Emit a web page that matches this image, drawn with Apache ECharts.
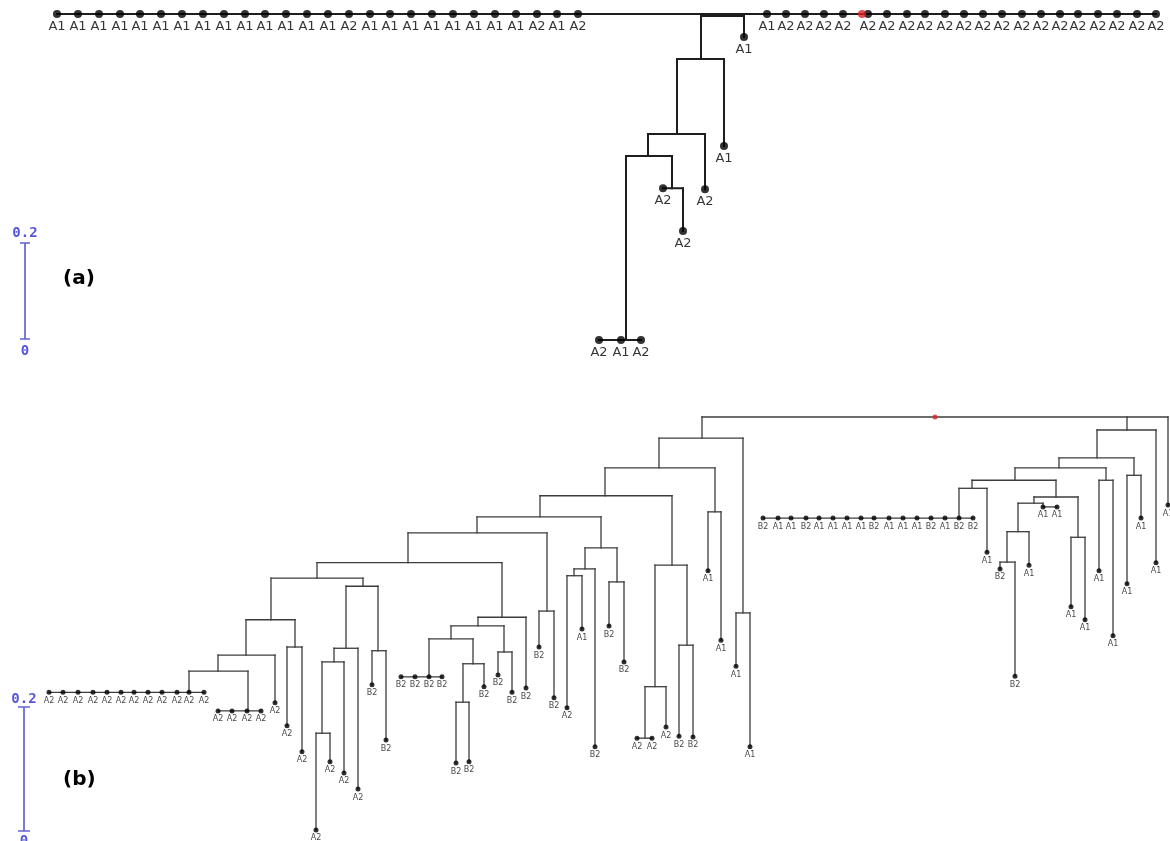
<!DOCTYPE html>
<html>
<head>
<meta charset="utf-8">
<script src="https://cdn.jsdelivr.net/npm/echarts@6/dist/echarts.min.js"></script>
<style>html,body{margin:0;padding:0;background:#fff}#c{width:1170px;height:841px}</style>
</head>
<body>
<div id="c"></div>
<script>
// ---------------- Panel (a) ----------------
// internal nodes: position along leaf axis, distance from root, parent index
const aInnerX = [862, 701, 701, 677, 648, 672, 626];
const aInnerDist = [0, 0.004, 0.094, 0.250, 0.296, 0.363, 0.679];
const aInnerParent = [-1, 0, 1, 2, 3, 4, 4];
// leaves
const aLeafX = [57,78,99,120,140,161,182,203,224,245,265,286,307,328,349,370,390,411,432,453,474,495,516,537,557,578,
  767,786,805,824,843,868,887,907,925,945,964,983,1002,1022,1041,1060,1078,1098,1117,1137,1156,
  744, 724, 705, 663,683, 599,621,641];
const aLeafDist = [0,0,0,0,0,0,0,0,0,0,0,0,0,0,0,0,0,0,0,0,0,0,0,0,0,0,
  0,0,0,0,0,0,0,0,0,0,0,0,0,0,0,0,0,0,0,0,0,
  0.048, 0.275, 0.365, 0.363,0.452, 0.679,0.679,0.679];
const aLeafParent = [0,0,0,0,0,0,0,0,0,0,0,0,0,0,0,0,0,0,0,0,0,0,0,0,0,0,
  0,0,0,0,0,0,0,0,0,0,0,0,0,0,0,0,0,0,0,0,0,
  1, 2, 3, 5,5, 6,6,6];
const aLeafLabel = ['A1','A1','A1','A1','A1','A1','A1','A1','A1','A1','A1','A1','A1','A1','A2','A1','A1','A1','A1','A1','A1','A1','A1','A2','A1','A2',
  'A1','A2','A2','A2','A2','A2','A2','A2','A2','A2','A2','A2','A2','A2','A2','A2','A2','A2','A2','A2','A2',
  'A1','A1','A2','A2','A2','A2','A1','A2'];

// ---------------- Panel (b) ----------------
const bInnerX = [935, 702, 1127, 743, 659, 715, 605, 672, 655, 645, 687, 540, 601, 617, 585, 574, 477, 547, 408, 502,
  478, 504, 451, 429, 473, 463, 317, 363, 378, 346, 334, 322, 271, 295, 246, 218, 189, 248,
  1097, 1134, 1059, 1106, 1015, 972, 959, 1056, 1078, 1034, 1043, 1018, 1007];
const bInnerDist = [0, 0.034, 0.021, 0.316, 0.082, 0.153, 0.127, 0.239, 0.435, 0.518, 0.368, 0.161, 0.211, 0.266, 0.245, 0.256, 0.187, 0.313, 0.235, 0.323,
  0.337, 0.379, 0.358, 0.419, 0.398, 0.460, 0.260, 0.273, 0.377, 0.373, 0.395, 0.510, 0.327, 0.371, 0.384, 0.410, 0.444, 0.474,
  0.066, 0.094, 0.082, 0.102, 0.102, 0.115, 0.163, 0.129, 0.194, 0.139, 0.145, 0.185, 0.234];
const bInnerParent = [-1, 0, 0, 1, 1, 4, 4, 6, 7, 8, 7, 6, 11, 12, 12, 14, 11, 16, 16, 18,
  19, 20, 20, 22, 22, 24, 18, 26, 27, 27, 29, 30, 26, 32, 32, 34, 35, 35,
  2, 38, 38, 40, 40, 42, 43, 42, 45, 45, 47, 47, 49];
const bLeafX = [1168, 736,750, 708,721, 666, 637,652, 679,693, 609,624, 595, 567,582, 539,554, 526, 498,512, 401,415,429,442, 484, 456,469,
  372,386, 358, 344, 316,330, 287,302, 275,
  49,63,78,93,107,121,134,148,162,177,189,204, 218,232,247,261,
  1156, 1127,1141, 1099,1113, 987,
  763,778,791,806,819,833,847,861,874,889,903,917,931,945,959,973,
  1071,1085, 1043,1057, 1029, 1000,1015];
const bLeafDist = [0.142, 0.402,0.532, 0.248,0.360, 0.500, 0.518,0.518, 0.515,0.516, 0.337,0.395, 0.532, 0.469,0.342, 0.371,0.453, 0.437, 0.416,0.444, 0.419,0.419,0.419,0.419, 0.435, 0.558,0.556,
  0.432,0.521, 0.600, 0.574, 0.666,0.556, 0.498,0.540, 0.461,
  0.444,0.444,0.444,0.444,0.444,0.444,0.444,0.444,0.444,0.444,0.444,0.444, 0.474,0.474,0.474,0.474,
  0.235, 0.269,0.163, 0.248,0.353, 0.218,
  0.163,0.163,0.163,0.163,0.163,0.163,0.163,0.163,0.163,0.163,0.163,0.163,0.163,0.163,0.163,0.163,
  0.306,0.327, 0.145,0.145, 0.239, 0.245,0.418];
const bLeafParent = [0, 3,3, 5,5, 8, 9,9, 10,10, 13,13, 14, 15,15, 17,17, 19, 21,21, 23,23,23,23, 24, 25,25,
  28,28, 29, 30, 31,31, 33,33, 34,
  36,36,36,36,36,36,36,36,36,36,36,36, 37,37,37,37,
  2, 39,39, 41,41, 43,
  44,44,44,44,44,44,44,44,44,44,44,44,44,44,44,44,
  46,46, 48,48, 49, 50,50];
const bLeafLabel = ['A1', 'A1','A1', 'A1','A1', 'A2', 'A2','A2', 'B2','B2', 'B2','B2', 'B2', 'A2','A1', 'B2','B2', 'B2', 'B2','B2', 'B2','B2','B2','B2', 'B2', 'B2','B2',
  'B2','B2', 'A2', 'A2', 'A2','A2', 'A2','A2', 'A2',
  'A2','A2','A2','A2','A2','A2','A2','A2','A2','A2','A2','A2', 'A2','A2','A2','A2',
  'A1', 'A1','A1', 'A1','A1', 'A1',
  'B2','A1','A1','B2','A1','A1','A1','A1','B2','A1','A1','A1','B2','A1','B2','B2',
  'A1','A1', 'A1','A1', 'A1', 'B2','B2'];

// scale bar
const scaleTicks = [0, 0.2];
const scaleTickLabels = ['0', '0.2'];

// ---------------- layout constants ----------------
const W = 1170;
const PX_A = 480, PX_B = 620;       // pixels per distance unit
const TOP_A = 14, TOP_B = 417;
const H_A = 360, H_B = 424;

function segments(innerX, innerD, innerP, leafX, leafD, leafP) {
  const lo = innerX.slice(), hi = innerX.slice();
  const segs = [];
  const link = (x, d, p) => {
    if (p < 0) return;
    lo[p] = Math.min(lo[p], x); hi[p] = Math.max(hi[p], x);
    if (d > innerD[p]) segs.push([x, innerD[p], x, d]);
  };
  innerX.forEach((x, i) => link(x, innerD[i], innerP[i]));
  leafX.forEach((x, i) => link(x, leafD[i], leafP[i]));
  innerX.forEach((x, i) => { if (hi[i] > lo[i]) segs.push([lo[i], innerD[i], hi[i], innerD[i]]); });
  return segs;
}

function lineSeries(idx, segs, color, width) {
  return {
    type: 'custom', xAxisIndex: idx, yAxisIndex: idx, clip: false, silent: true, z: 2,
    data: segs,
    renderItem: (params, api) => {
      const p1 = api.coord([api.value(0), api.value(1)]);
      const p2 = api.coord([api.value(2), api.value(3)]);
      return { type: 'line', shape: { x1: p1[0], y1: p1[1], x2: p2[0], y2: p2[1] },
        style: { stroke: color, lineWidth: width, lineCap: 'square' } };
    }
  };
}

function leafSeries(idx, xs, ds, labels, size, fontSize, dist, color) {
  return {
    type: 'scatter', xAxisIndex: idx, yAxisIndex: idx, z: 3, silent: true,
    symbol: 'circle', symbolSize: size,
    itemStyle: { color: '#000' },
    label: { show: true, position: 'bottom', distance: dist, formatter: '{b}',
      fontFamily: 'DejaVu Sans', fontSize: fontSize, color: color },
    data: xs.map((x, i) => ({ name: labels[i], value: [x, ds[i]] }))
  };
}

function scaleSeries(idx, tickW, topDist, botDist) {
  return [
    { type: 'line', xAxisIndex: idx, yAxisIndex: idx, silent: true, showSymbol: false,
      lineStyle: { color: '#5a5ad8', width: 1.6 },
      data: scaleTicks.map(t => [0, t]) },
    { type: 'scatter', xAxisIndex: idx, yAxisIndex: idx, silent: true,
      symbol: 'rect', symbolSize: [tickW, 1.6], itemStyle: { color: '#4646cc' },
      label: { show: true, fontFamily: 'DejaVu Sans Mono', fontWeight: 'bold', fontSize: 14, color: '#2a2ad0' },
      data: scaleTicks.map((t, i) => ({ value: [0, t], name: scaleTickLabels[i],
        label: { formatter: '{b}', position: t > 0 ? 'top' : 'bottom', distance: t > 0 ? topDist : botDist } })) }
  ];
}

const chart = echarts.init(document.getElementById('c'));
chart.setOption({
  animation: false,
  backgroundColor: '#fff',
  title: [
    { text: '(a)', left: 63, top: 269, padding: 0,
      textStyle: { fontFamily: 'DejaVu Sans', fontWeight: 'bold', fontSize: 20, color: '#000' } },
    { text: '(b)', left: 63, top: 770, padding: 0,
      textStyle: { fontFamily: 'DejaVu Sans', fontWeight: 'bold', fontSize: 20, color: '#000' } }
  ],
  grid: [
    { left: 0, top: TOP_A, width: W, height: H_A },
    { left: 0, top: TOP_B, width: W, height: H_B },
    { left: 15, top: 243, width: 20, height: 0.2 * PX_A },
    { left: 14, top: 707, width: 20, height: 0.2 * PX_B }
  ],
  xAxis: [
    { gridIndex: 0, type: 'value', min: 0, max: W, show: false },
    { gridIndex: 1, type: 'value', min: 0, max: W, show: false },
    { gridIndex: 2, type: 'value', min: -1, max: 1, show: false },
    { gridIndex: 3, type: 'value', min: -1, max: 1, show: false }
  ],
  yAxis: [
    { gridIndex: 0, type: 'value', inverse: true, min: 0, max: H_A / PX_A, show: false },
    { gridIndex: 1, type: 'value', inverse: true, min: 0, max: H_B / PX_B, show: false },
    { gridIndex: 2, type: 'value', min: 0, max: 0.2, show: false },
    { gridIndex: 3, type: 'value', min: 0, max: 0.2, show: false }
  ],
  series: [
    lineSeries(0, segments(aInnerX, aInnerDist, aInnerParent, aLeafX, aLeafDist, aLeafParent), '#1e1e1e', 2),
    leafSeries(0, aLeafX, aLeafDist, aLeafLabel, 8, 13, 2, '#000'),
    { type: 'scatter', xAxisIndex: 0, yAxisIndex: 0, z: 4, silent: true, symbolSize: 8,
      itemStyle: { color: '#e02020' }, data: [[aInnerX[0], aInnerDist[0]]] },
    lineSeries(1, segments(bInnerX, bInnerDist, bInnerParent, bLeafX, bLeafDist, bLeafParent), '#3c3c3c', 1.3),
    leafSeries(1, bLeafX, bLeafDist, bLeafLabel, 5, 8, 2, '#111'),
    { type: 'scatter', xAxisIndex: 1, yAxisIndex: 1, z: 4, silent: true, symbolSize: 5,
      itemStyle: { color: '#e02020' }, data: [[bInnerX[0], bInnerDist[0]]] },
    ...scaleSeries(2, 10, 2, 5),
    ...scaleSeries(3, 12, 0, 3)
  ]
});
</script>
</body>
</html>
